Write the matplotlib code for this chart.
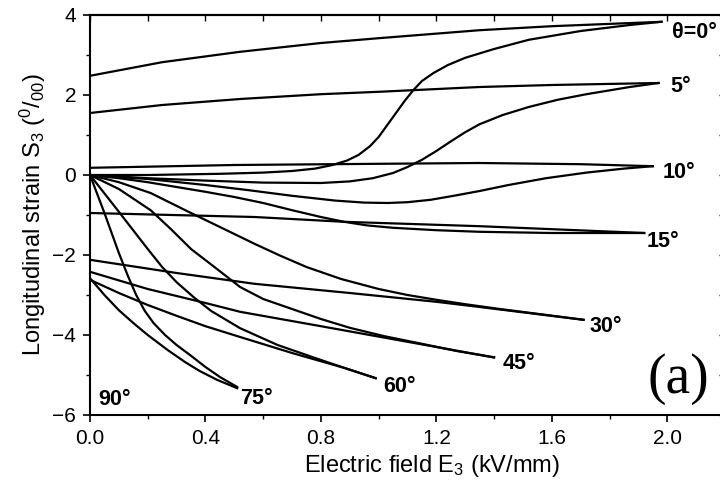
import matplotlib
matplotlib.use("Agg")
import matplotlib.pyplot as plt
from matplotlib.ticker import MultipleLocator

plt.rcParams['font.family'] = ['Liberation Sans', 'DejaVu Sans']
plt.rcParams['mathtext.default'] = 'regular'

# ---- data ----
# each angle: branch starting from an offset at E=0, and branch starting at origin
x_off_0 = [0, 0.25, 0.52, 0.8, 1.0, 1.35, 1.6, 1.98]
y_off_0 = [2.48, 2.82, 3.08, 3.3, 3.42, 3.62, 3.72, 3.83]
x_org_0 = [0, 0.2, 0.45, 0.6, 0.7, 0.78, 0.84, 0.89, 0.93, 0.97, 1.0, 1.03, 1.06, 1.09, 1.12,
           1.15, 1.19, 1.24, 1.3, 1.4, 1.52, 1.7, 1.87, 1.98]
y_org_0 = [0, 0.0, 0.03, 0.06, 0.1, 0.16, 0.25, 0.36, 0.5, 0.72, 0.95, 1.25, 1.55, 1.85, 2.12,
           2.35, 2.55, 2.75, 2.93, 3.15, 3.38, 3.6, 3.75, 3.83]

x_off_5 = [0, 0.25, 0.52, 0.8, 1.0, 1.35, 1.6, 1.97]
y_off_5 = [1.55, 1.75, 1.9, 2.02, 2.08, 2.2, 2.25, 2.3]
x_org_5 = [0, 0.2, 0.4, 0.6, 0.8, 0.9, 0.98, 1.05, 1.1, 1.15, 1.2, 1.25, 1.3, 1.35, 1.43,
           1.52, 1.62, 1.72, 1.87, 1.97]
y_org_5 = [0, -0.08, -0.14, -0.19, -0.2, -0.16, -0.08, 0.05, 0.2, 0.38, 0.6, 0.84, 1.07, 1.27, 1.5,
           1.7, 1.88, 2.02, 2.2, 2.3]

x_off_10 = [0, 0.5, 1.0, 1.35, 1.7, 1.95]
y_off_10 = [0.18, 0.25, 0.28, 0.3, 0.27, 0.22]
x_org_10 = [0, 0.2, 0.4, 0.55, 0.7, 0.85, 0.95, 1.03, 1.1, 1.18, 1.26, 1.35, 1.45, 1.58, 1.72, 1.85, 1.95]
y_org_10 = [0, -0.1, -0.25, -0.38, -0.52, -0.64, -0.69, -0.7, -0.68, -0.62, -0.52, -0.4, -0.25, -0.08, 0.06, 0.16, 0.22]

x_off_15 = [0, 0.57, 0.88, 1.35, 1.92]
y_off_15 = [-0.95, -1.05, -1.17, -1.28, -1.45]
x_org_15 = [0, 0.1, 0.2, 0.3, 0.4, 0.5, 0.6, 0.7, 0.8, 0.88, 0.96, 1.05, 1.2, 1.35, 1.6, 1.92]
y_org_15 = [0, -0.08, -0.18, -0.3, -0.42, -0.55, -0.7, -0.88, -1.05, -1.17, -1.26, -1.32, -1.38, -1.42, -1.45, -1.45]

x_off_30 = [0, 0.3, 0.57, 0.9, 1.2, 1.35, 1.71]
y_off_30 = [-2.12, -2.45, -2.72, -2.95, -3.17, -3.3, -3.62]
x_org_30 = [0, 0.1, 0.21, 0.33, 0.45, 0.57, 0.66, 0.75, 0.87, 1.0, 1.1, 1.2, 1.3, 1.42, 1.55, 1.71]
y_org_30 = [0, -0.18, -0.45, -0.88, -1.3, -1.72, -2.02, -2.3, -2.6, -2.85, -3.0, -3.12, -3.23, -3.35, -3.47, -3.62]

x_off_45 = [0, 0.2, 0.4, 0.52, 0.8, 1.0, 1.2, 1.4]
y_off_45 = [-2.42, -2.85, -3.2, -3.42, -3.78, -4.04, -4.3, -4.56]
x_org_45 = [0, 0.1, 0.21, 0.28, 0.35, 0.44, 0.52, 0.6, 0.7, 0.8, 0.9, 1.02, 1.15, 1.27, 1.4]
y_org_45 = [0, -0.35, -0.88, -1.35, -1.85, -2.35, -2.8, -3.1, -3.35, -3.6, -3.82, -4.03, -4.22, -4.4, -4.56]

x_off_60 = [0, 0.1, 0.2, 0.3, 0.4, 0.52, 0.7, 0.88, 0.99]
y_off_60 = [-2.62, -2.95, -3.25, -3.52, -3.78, -4.05, -4.45, -4.82, -5.08]
x_org_60 = [0, 0.1, 0.2, 0.25, 0.3, 0.36, 0.42, 0.52, 0.65, 0.79, 0.88, 0.99]
y_org_60 = [0, -0.92, -1.85, -2.3, -2.68, -3.06, -3.4, -3.83, -4.25, -4.6, -4.82, -5.08]

x_off_75 = [0, 0.05, 0.1, 0.15, 0.2, 0.27, 0.33, 0.38, 0.44, 0.51]
y_off_75 = [-2.58, -3.0, -3.38, -3.7, -4.0, -4.38, -4.68, -4.9, -5.12, -5.33]
x_org_75 = [0, 0.05, 0.1, 0.13, 0.16, 0.19, 0.22, 0.26, 0.3, 0.35, 0.4, 0.45, 0.51]
y_org_75 = [0, -0.95, -1.95, -2.5, -3.0, -3.4, -3.7, -4.0, -4.25, -4.52, -4.8, -5.05, -5.3]

curve_labels = ['\u03b8=0\u00b0', '5\u00b0', '10\u00b0', '15\u00b0', '30\u00b0', '45\u00b0', '60\u00b0', '75\u00b0', '90\u00b0']
label_x = [2.015, 2.01, 1.985, 1.93, 1.73, 1.43, 1.015, 0.52, 0.028]
label_y = [3.55, 2.2, 0.05, -1.67, -3.8, -4.72, -5.3, -5.58, -5.62]

x_ticks = [0.0, 0.4, 0.8, 1.2, 1.6, 2.0]
y_ticks = [-6, -4, -2, 0, 2, 4]

# ---- plot ----
fig = plt.figure(figsize=(7.2, 4.84), dpi=100)
ax = fig.add_axes([90 / 720, (484 - 415) / 484, 635 / 720, 400 / 484])

branches = [
    (x_off_0, y_off_0), (x_org_0, y_org_0),
    (x_off_5, y_off_5), (x_org_5, y_org_5),
    (x_off_10, y_off_10), (x_org_10, y_org_10),
    (x_off_15, y_off_15), (x_org_15, y_org_15),
    (x_off_30, y_off_30), (x_org_30, y_org_30),
    (x_off_45, y_off_45), (x_org_45, y_org_45),
    (x_off_60, y_off_60), (x_org_60, y_org_60),
    (x_off_75, y_off_75), (x_org_75, y_org_75),
]
for bx, by in branches:
    ax.plot(bx, by, color='black', lw=1.6, solid_joinstyle='round')

for t, lx, ly in zip(curve_labels, label_x, label_y):
    ax.text(lx, ly, t, fontsize=15.5, fontweight='bold', ha='left', va='center')

ax.text(2.04, -5.1, '(a)', fontsize=40, family=['Liberation Serif', 'DejaVu Serif'],
        ha='center', va='center')

ax.set_xlim(0, 2.2)
ax.set_ylim(-6, 4)
ax.set_xticks(x_ticks)
ax.set_xticklabels([f'{v:.1f}' for v in x_ticks])
ax.set_yticks(y_ticks)
ax.xaxis.set_minor_locator(MultipleLocator(0.2))
ax.yaxis.set_minor_locator(MultipleLocator(1))
ax.tick_params(axis='both', which='major', direction='out', length=5, width=1.2,
               labelsize=15, pad=5)
ax.tick_params(axis='both', which='minor', direction='out', length=3, width=1.0)

for s in ax.spines.values():
    s.set_linewidth(1.5)

secx = ax.secondary_xaxis('top')
secx.set_xticks(x_ticks)
secx.xaxis.set_minor_locator(MultipleLocator(0.2))
secx.tick_params(axis='x', which='both', direction='in', labeltop=False, length=4, width=1.0)
secx.spines['top'].set_linewidth(1.5)
secy = ax.secondary_yaxis('right')
secy.set_yticks(y_ticks)
secy.yaxis.set_minor_locator(MultipleLocator(1))
secy.tick_params(axis='y', which='both', direction='in', labelright=False, length=4, width=1.0)

ax.set_xlabel('Electric field E$_3$ (kV/mm)', fontsize=17)
ax.xaxis.set_label_coords(0.539, -0.095)
ax.set_ylabel('Longitudinal strain S$_3$ ($^{0}$/$_{00}$)', fontsize=17, labelpad=3)

fig.savefig('out.png', dpi=100, facecolor='white')
